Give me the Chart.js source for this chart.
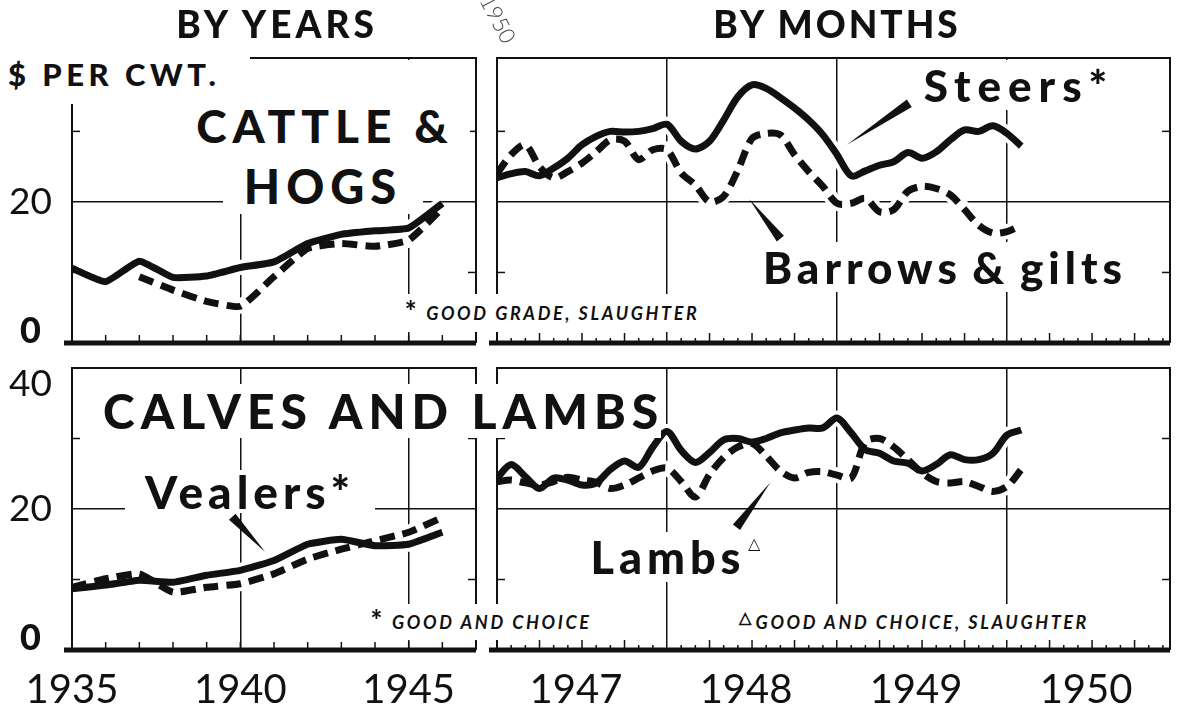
<!DOCTYPE html>
<html>
<head>
<meta charset="utf-8">
<title>Prices of meat animals</title>
<script src="https://cdn.jsdelivr.net/npm/chart.js@4.4.1/dist/chart.umd.min.js"></script>
<style>
  body { margin: 0; background: #fff; }
  #wrap { position: relative; width: 1180px; height: 716px; overflow: hidden; font-family: Lato, sans-serif; color: #111; }
  canvas { position: absolute; }
  .lbl { position: absolute; background: #fff; display: flex; align-items: center; justify-content: center;
         white-space: nowrap; line-height: 1; font-weight: 900; }
  .note { font-style: italic; font-weight: 700; font-size: 18px; letter-spacing: 2.6px; }
  .ast { font-style: normal; font-size: 28px; font-weight: 900; margin-right: 7px; position: relative; top: -3px; }
</style>
</head>
<body>
<div id="wrap">
  <canvas id="tl" width="480" height="360" style="left:0;top:0"></canvas>
  <canvas id="tr" width="692" height="360" style="left:488px;top:0"></canvas>
  <canvas id="bl" width="480" height="361" style="left:0;top:355px"></canvas>
  <canvas id="br" width="692" height="361" style="left:488px;top:355px"></canvas>

  <div class="lbl" style="left:150px;top:2px;width:254px;height:42px;font-size:37px;letter-spacing:4px;background:none">BY YEARS</div>
  <div class="lbl" style="left:712px;top:2px;width:250px;height:42px;font-size:37px;letter-spacing:3px;background:none">BY MONTHS</div>
  <div class="lbl" style="left:478px;top:4px;width:40px;height:30px;font-size:22px;font-weight:300;color:#444;background:none;transform:rotate(62deg)">1950</div>

  <div class="lbl" style="left:180px;top:60px;width:290px;height:132px;font-size:46px;letter-spacing:6px;align-items:flex-start"><span style="margin-top:43px">CATTLE &amp;</span></div>
  <div class="lbl" style="left:223px;top:158px;width:200px;height:56px;font-size:47px;letter-spacing:6px">HOGS</div>
  <div class="lbl" style="left:0;top:50px;width:242px;height:48px;padding:0 0 6px 8px;justify-content:flex-start;font-size:31px;letter-spacing:4.5px">$ PER CWT.</div>
  <div class="lbl" style="left:912px;top:60px;width:214px;height:50px;font-size:44px;letter-spacing:7px">Steers*</div>
  <div class="lbl" style="left:752px;top:242px;width:386px;height:50px;font-size:44px;letter-spacing:5px">Barrows&thinsp;&amp;&thinsp;gilts</div>
  <div class="lbl note" style="left:390px;top:294px;width:324px;height:38px"><span class="ast">*</span>GOOD GRADE, SLAUGHTER</div>

  <div class="lbl" style="left:95px;top:384px;width:566px;height:54px;font-size:48px;letter-spacing:6px;justify-content:flex-start;padding-left:8px;box-sizing:border-box">CALVES AND LAMBS</div>
  <div class="lbl" style="left:125px;top:470px;width:250px;height:43px;font-size:46px;letter-spacing:5px">Vealers*</div>
  <div class="lbl" style="left:580px;top:532px;width:195px;height:50px;font-size:45px;letter-spacing:5px">Lambs<span style="font-size:16px;font-weight:400;position:relative;top:-14px;margin-left:2px">△</span></div>
  <div class="lbl note" style="left:352px;top:604px;width:258px;height:36px"><span class="ast">*</span>GOOD AND CHOICE</div>
  <div class="lbl note" style="left:718px;top:604px;width:392px;height:36px"><span style="font-style:normal;font-size:16px;position:relative;top:-5px;margin-right:2px">△</span>GOOD AND CHOICE, SLAUGHTER</div>
</div>

<script>
// annual averages, 1935-1946 ($ per cwt.)
const years = [1935, 1936, 1937, 1938, 1939, 1940, 1941, 1942, 1943, 1944, 1945, 1946];
const steersYr  = [10.6, 8.7, 11.6, 9.3, 9.5, 10.7, 11.5, 14.1, 15.4, 15.9, 16.3, 19.8];
const hogsYr    = [null, null, 9.4, 7.5, 5.9, 5.2, 9.4, 13.4, 14.1, 13.7, 14.6, 19.1];
const vealersYr = [8.7, 9.2, 9.9, 9.6, 10.6, 11.3, 12.7, 15.0, 15.7, 14.8, 15.0, 16.7];
const lambsYr   = [8.9, 10.1, 10.8, 8.2, 8.9, 9.4, 10.8, 12.9, 14.3, 15.5, 16.7, 18.8];

// monthly, Jan 1947 - Feb 1950
const steersMo  = [23.4, 24.0, 24.3, 23.7, 24.8, 26.2, 28.1, 29.3, 30.0, 29.9, 30.0, 30.4,
                   31.0, 28.6, 27.5, 28.6, 31.6, 34.9, 36.6, 36.1, 34.8, 33.3, 31.6, 29.5,
                   26.7, 23.7, 24.4, 25.2, 25.7, 27.0, 26.2, 27.1, 28.8, 30.2, 30.0, 30.8,
                   29.7, 27.9];
const hogsMo    = [24.0, 26.7, 28.1, 25.0, 23.4, 24.3, 25.5, 27.1, 28.8, 28.6, 26.0, 27.4,
                   27.4, 24.1, 22.4, 20.0, 20.8, 24.5, 29.0, 29.7, 29.5, 26.7, 24.3, 22.2,
                   19.8, 19.8, 20.5, 18.6, 18.9, 21.5, 22.2, 21.9, 21.0, 18.9, 16.7, 15.6,
                   15.8, 16.7];
const vealersMo = [24.4, 26.3, 24.6, 22.9, 24.4, 24.1, 23.4, 23.7, 25.6, 26.8, 25.9, 28.8,
                   31.0, 28.3, 26.6, 28.0, 29.8, 30.0, 29.5, 30.0, 30.8, 31.2, 31.5, 31.5,
                   32.9, 30.8, 28.4, 27.9, 26.8, 26.5, 25.4, 26.3, 27.7, 27.0, 27.0, 27.9,
                   30.5, 31.2];
const lambsMo   = [23.9, 24.1, 23.7, 23.4, 23.9, 24.5, 24.1, 23.8, 22.9, 23.4, 24.4, 25.4,
                   25.8, 23.9, 21.7, 24.9, 27.3, 28.8, 29.3, 27.5, 25.4, 24.4, 25.2, 25.3,
                   24.8, 24.4, 29.5, 30.0, 28.8, 27.0, 25.1, 23.9, 23.7, 23.9, 23.2, 22.5,
                   23.2, 25.6];
const months = steersMo.map((v, i) => i);   // 0 = Jan 1947

const yearLabels  = {1935: '1935', 1940: '1940', 1945: '1945'};
const monthLabels = {6: '1947', 18: '1948', 30: '1949', 42: '1950'};
const yearGrid  = [1940, 1945];
const monthGrid = [12, 24, 36];

Chart.defaults.font.family = 'Lato';
Chart.defaults.color = '#111';

function deco(o) {
  return {
    id: 'deco',
    afterDatasetsDraw(chart) {
      const {ctx, chartArea: a, scales: {x, y}} = chart;
      const ln = (x1, y1, x2, y2) => { ctx.beginPath(); ctx.moveTo(x1, y1); ctx.lineTo(x2, y2); ctx.stroke(); };
      ctx.save();
      ctx.strokeStyle = '#111';
      ctx.fillStyle = '#111';
      ctx.lineWidth = 2;
      ctx.beginPath();
      ctx.moveTo(a.left, a.bottom); ctx.lineTo(a.left, a.top);
      ctx.lineTo(a.right, a.top); ctx.lineTo(a.right, a.bottom);
      ctx.stroke();
      ctx.lineWidth = 1.5;
      [10, 30].forEach(v => {
        const py = y.getPixelForValue(v);
        ln(a.left, py, a.left + 8, py);
        ln(a.right, py, a.right - 8, py);
      });
      x.ticks.forEach(t => {
        const v = t.value;
        let len;
        if (o.kind === 'year') len = (v > x.min && v < x.max) ? 8 : 0;
        else len = (v % 12 === 0 || v >= x.max) ? 0 : (v % 3 === 0 ? 10 : 5);
        if (!len) return;
        const px = x.getPixelForValue(v);
        ln(px, a.bottom, px, a.bottom - len);
      });
      ctx.lineWidth = 5;
      ln(a.left - 8, a.bottom, a.right, a.bottom);
      (o.wedges || []).forEach(w => {
        const x1 = x.getPixelForValue(w.tip[0]), y1 = y.getPixelForValue(w.tip[1]);
        const x2 = x.getPixelForValue(w.base[0]), y2 = y.getPixelForValue(w.base[1]);
        const L = Math.hypot(x2 - x1, y2 - y1);
        const nx = -(y2 - y1) / L * 4.5, ny = (x2 - x1) / L * 4.5;
        ctx.beginPath();
        ctx.moveTo(x1, y1);
        ctx.lineTo(x2 + nx, y2 + ny);
        ctx.lineTo(x2 - nx, y2 - ny);
        ctx.closePath();
        ctx.fill();
      });
      ctx.restore();
    }
  };
}

function panel(id, o) {
  const isYear = o.kind === 'year';
  const xs = isYear ? years : months;
  const xMin = isYear ? 1935 : 0, xMax = isYear ? 1947 : 47.5;
  const xTicks = [];
  for (let v = xMin; v <= Math.floor(xMax); v++) xTicks.push(v);
  const grid = isYear ? yearGrid : monthGrid;
  const labels = isYear ? yearLabels : monthLabels;
  const datasets = [];
  o.series.forEach(s => {
    const pts = s.data.map((v, i) => ({x: xs[i], y: v}));
    const common = {data: pts, pointRadius: 0, tension: isYear ? 0.15 : 0.3, borderJoinStyle: 'round', spanGaps: false, fill: false};
    datasets.push(Object.assign({}, common, {borderColor: '#fff', borderWidth: 15, order: 5}));
    datasets.push(Object.assign({}, common, {borderColor: '#111', borderWidth: 7, borderDash: s.dash ? [15, 8] : [], order: 1}));
  });
  const yMax = o.top ? 40.4 : 40;
  new Chart(document.getElementById(id), {
    type: 'line',
    data: {datasets},
    options: {
      responsive: false,
      animation: false,
      events: [],
      layout: {padding: o.pad},
      plugins: {legend: {display: false}, tooltip: {enabled: false}},
      scales: {
        x: {
          type: 'linear', min: xMin, max: xMax,
          afterBuildTicks: s => { s.ticks = xTicks.map(v => ({value: v})); },
          afterFit: s => { s.height = o.xh; s.paddingLeft = 0; s.paddingRight = 0; },
          border: {display: false},
          grid: {drawTicks: false, lineWidth: 1.5,
                 color: c => (c.tick && grid.includes(c.tick.value)) ? '#111' : 'rgba(0,0,0,0)'},
          ticks: {display: !o.top, autoSkip: false, maxRotation: 0, padding: 16,
                  labelOffset: isYear ? 0 : -6,
                  font: {size: 40, weight: 400, lineHeight: 1.2},
                  callback: v => labels[v] || ''}
        },
        y: {
          min: 0, max: yMax,
          afterBuildTicks: s => { s.ticks = [0, 10, 20, 30, 40].map(v => ({value: v})); },
          afterFit: s => { s.width = o.yw; s.paddingTop = 0; s.paddingBottom = 0; },
          border: {display: false},
          grid: {drawTicks: false, lineWidth: 1.5,
                 color: c => (c.tick && c.tick.value === 20) ? '#111' : 'rgba(0,0,0,0)'},
          ticks: {display: isYear, crossAlign: 'center', padding: 20,
                  font: c => {
                    const v = c.tick && c.tick.value;
                    if (v === 0) return {size: 36, weight: 900, lineHeight: 0.62};
                    if (v === 40) return {size: 37, weight: 400, lineHeight: 0.86};
                    return {size: 37, weight: 400, lineHeight: 1.2};
                  },
                  callback: v => {
                    if (v === 0) return ['0', ''];
                    if (v === 20) return '20';
                    if (v === 40 && !o.top) return ['', '40'];
                    return '';
                  }}
        }
      }
    },
    plugins: [deco(o)]
  });
}

panel('tl', {kind: 'year', top: true, pad: {top: 58, right: 4, left: 0, bottom: 0}, xh: 17, yw: 72,
  series: [{data: steersYr}, {data: hogsYr, dash: true}]});
panel('tr', {kind: 'month', top: true, pad: {top: 58, right: 10, left: 0, bottom: 0}, xh: 17, yw: 9,
  series: [{data: steersMo}, {data: hogsMo, dash: true}],
  wedges: [{tip: [24.7, 28.1], base: [29.1, 34.0]}, {tip: [17.8, 20.4], base: [20.0, 14.8]}]});
panel('bl', {kind: 'year', top: false, pad: {top: 13, right: 4, left: 0, bottom: 0}, xh: 66, yw: 72,
  series: [{data: vealersYr}, {data: lambsYr, dash: true}],
  wedges: [{tip: [1940.74, 13.9], base: [1939.76, 18.9]}]});
panel('br', {kind: 'month', top: false, pad: {top: 13, right: 10, left: 0, bottom: 0}, xh: 66, yw: 9,
  series: [{data: vealersMo}, {data: lambsMo, dash: true}],
  wedges: [{tip: [19.3, 23.8], base: [16.9, 17.4]}]});
</script>
</body>
</html>
